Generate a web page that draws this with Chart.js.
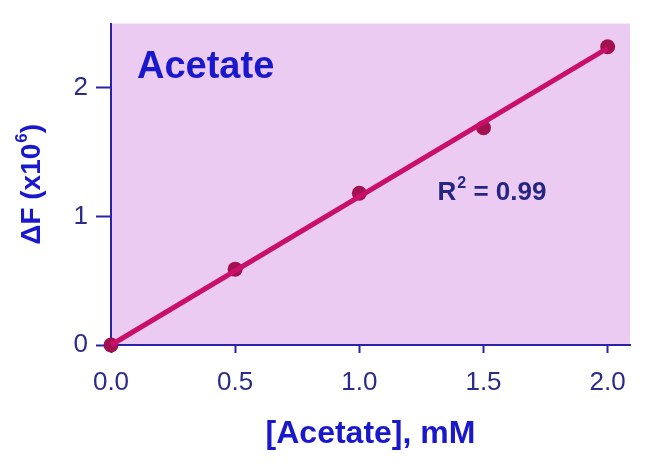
<!DOCTYPE html>
<html>
<head>
<meta charset="utf-8">
<script src="https://cdn.jsdelivr.net/npm/chart.js@4"></script>
<style>
  html, body { margin: 0; padding: 0; background: #fff; }
  #wrap { width: 650px; height: 468px; }
</style>
</head>
<body>
<div id="wrap"><canvas id="chart"></canvas></div>
<script>
// measured points
const conc = [0, 0.5, 1.0, 1.5, 2.0];
const deltaF = [0, 0.59, 1.18, 1.69, 2.32];
// fitted line end points
const fitX = [0, 2.0];
const fitY = [0, 2.31];
const xTicks = [0, 0.5, 1.0, 1.5, 2.0];
const yTicks = [0, 1, 2];

const axisColor = '#2a22a8';
const tickText = '#2b2b8c';
const titleBlue = '#1a18cc';
const fontFam = '"Liberation Sans", Arial, sans-serif';

// draws "base" then a raised smaller "sup" then "rest", returns nothing
function supText(ctx, x, y, base, sup, rest, size) {
  ctx.font = 'bold ' + size + 'px ' + fontFam;
  ctx.fillText(base, x, y);
  let w = ctx.measureText(base).width;
  ctx.font = 'bold ' + Math.round(size * 0.62) + 'px ' + fontFam;
  ctx.fillText(sup, x + w + 1, y - size * 0.36);
  w += ctx.measureText(sup).width + 1;
  ctx.font = 'bold ' + size + 'px ' + fontFam;
  ctx.fillText(rest, x + w, y);
  return w + ctx.measureText(rest).width;
}

// plot background + text labels
const extras = {
  id: 'extras',
  beforeDraw(chart) {
    const a = chart.chartArea;
    const ctx = chart.ctx;
    ctx.save();
    ctx.fillStyle = '#eccbf3';
    ctx.fillRect(a.left, a.top, a.right - a.left, a.bottom - a.top);
    ctx.restore();
  },
  afterDatasetsDraw(chart) {
    const ctx = chart.ctx;
    const a = chart.chartArea;
    const x = chart.scales.x, y = chart.scales.y;
    ctx.save();
    ctx.textBaseline = 'middle';
    ctx.fillStyle = titleBlue;
    ctx.font = 'bold 38px ' + fontFam;
    ctx.fillText('Acetate', a.left + 26, a.top + 44);

    ctx.fillStyle = '#262680';
    supText(ctx, x.getPixelForValue(1.315), y.getPixelForValue(1.185), 'R', '2', ' = 0.99', 26);

    // y axis title, rotated
    ctx.fillStyle = titleBlue;
    ctx.translate(32, (a.top + a.bottom) / 2);
    ctx.rotate(-Math.PI / 2);
    ctx.font = 'bold 28px ' + fontFam;
    const parts = ['ΔF (x10', '6', ')'];
    ctx.font = 'bold 28px ' + fontFam;
    let total = ctx.measureText(parts[0]).width + ctx.measureText(parts[2]).width;
    ctx.font = 'bold 17px ' + fontFam;
    total += ctx.measureText(parts[1]).width + 1;
    supText(ctx, -total / 2, 0, parts[0], parts[1], parts[2], 28);
    ctx.restore();
  }
};

const fitData = fitX.map((v, i) => ({ x: v, y: fitY[i] }));
const pointData = conc.map((v, i) => ({ x: v, y: deltaF[i] }));

new Chart(document.getElementById('chart'), {
  type: 'scatter',
  data: {
    datasets: [
      {
        data: fitData,
        showLine: true,
        borderColor: '#c8106a',
        borderWidth: 5,
        pointRadius: 0,
        clip: false
      },
      {
        data: pointData,
        pointRadius: 7.5,
        pointBackgroundColor: '#a3104f',
        pointBorderColor: '#a3104f',
        pointBorderWidth: 0,
        clip: false
      }
    ]
  },
  options: {
    responsive: true,
    maintainAspectRatio: false,
    animation: false,
    events: [],
    layout: { padding: { top: 20, right: 20, left: 0, bottom: 0 } },
    plugins: {
      legend: { display: false },
      tooltip: { enabled: false }
    },
    scales: {
      x: {
        type: 'linear',
        min: 0,
        max: 2.09,
        afterFit(scale) { scale.height = 123; },
        afterBuildTicks(scale) { scale.ticks = xTicks.map(v => ({ value: v })); },
        border: { color: axisColor, width: 2 },
        grid: { drawOnChartArea: false, color: axisColor, tickLength: 8, tickWidth: 2 },
        ticks: {
          color: tickText,
          padding: 14,
          font: { family: fontFam, size: 26 },
          callback: v => v.toFixed(1)
        },
        title: {
          display: true,
          text: '[Acetate], mM',
          color: titleBlue,
          padding: { top: 0, bottom: 15 },
          font: { family: fontFam, size: 32, weight: 'bold' }
        }
      },
      y: {
        type: 'linear',
        min: 0,
        max: 2.5,
        afterFit(scale) { scale.width = 111; },
        afterBuildTicks(scale) { scale.ticks = yTicks.map(v => ({ value: v })); },
        border: { color: axisColor, width: 2 },
        grid: { drawOnChartArea: false, color: axisColor, tickLength: 15, tickWidth: 2 },
        ticks: {
          color: tickText,
          padding: 8,
          font: { family: fontFam, size: 26 }
        },
        title: { display: false }
      }
    }
  },
  plugins: [extras]
});
</script>
</body>
</html>
